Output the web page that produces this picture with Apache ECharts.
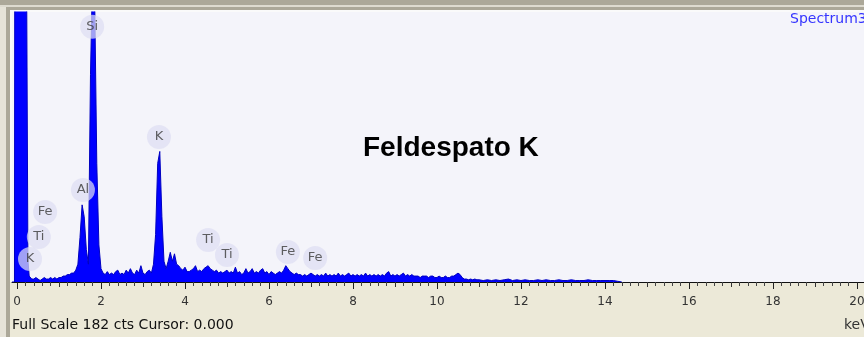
<!DOCTYPE html>
<html><head><meta charset="utf-8">
<script src="https://cdn.jsdelivr.net/npm/echarts@6/dist/echarts.min.js"></script>
<style>html,body{margin:0;padding:0;background:#ece9d8;overflow:hidden}#c{width:864px;height:337px}</style>
</head><body><div id="c"></div>
<script>
// ---- data (keV, counts) ----
const xMin = -0.119, xMax = 20.167, fullScale = 182;
const xTickLabels = [0, 2, 4, 6, 8, 10, 12, 14, 16, 18, 20];
const zeroPeakE = [-0.119, -0.06, -0.05, 0.0, 0.1, 0.2, 0.23, 0.26, 0.29];
const zeroPeakC = [0, 0, 320, 400, 400, 320, 200, 15, 4];
const step = 0.05;
const lowStart = 0.30;   // 0.30 .. 1.95 : Al + Si region
const lowCounts = [3,2,2,3,2,1,2,3,2,2,3,2,3,2,3,3,4,4,5,5,6,6,8,12,30,52,44,22,12,140,210,190,80,25];
const seg2Start = 2.00;  // 2.00 .. 3.20
const seg2Counts = [9,6,5,7,5,6,5,7,8,5,6,5,8,6,9,6,5,8,6,11,6,5,7,8,6];
const kStart = 3.25;     // 3.25 .. 4.05 : K peak
const kCounts = [12,32,80,88,44,14,9,14,20,14,19,12,11,9,8,10,7];
const tiStart = 4.10;    // 4.10 .. 5.55
const tiCounts = [7,8,9,11,7,8,7,9,10,11,9,8,7,8,6,7,6,7,8,6,7,6,10,6,7,5,6,9,6,7];
const feStart = 5.60;    // 5.60 .. 6.70
const feCounts = [9,6,7,6,8,9,6,7,5,7,6,5,6,7,6,8,11,9,7,6,5,6,5];
const midStart = 6.75;   // 6.75 .. 8.40
const midCounts = [5,4,5,4,5,6,5,4,5,4,5,4,6,4,5,4,5,4,6,4,5,4,5,6,4,5,4,5,4,5,4,6,4,5];
const highStart = 8.45;  // 8.45 .. 10.95
const highCounts = [4,5,4,5,4,5,4,6,7,4,5,4,5,4,5,6,4,5,4,5,4,4,4,3,4,4,4,3,4,4,3,3,4,3,3,4,3,3,4,4,5,6,5,3,2,2,1.5,2,1.5,2,1.5];
const tailStart = 11.0, tailStep = 0.1; // 11.0 .. 14.4
const tailCounts = [1.5,1,1.5,1,1.5,1,1.5,2,1,1.5,1,1.5,1,1,1.5,1,1.5,1,1,1.5,1,1,1.5,1,1,1,1.5,1,1,1,1,1,1,0.5,0];

const peakNames = ['Si', 'K', 'Al', 'Fe', 'Ti', 'K', 'Ti', 'Ti', 'Fe', 'Fe'];
const peakEnergies = [1.79, 3.38, 1.57, 0.67, 0.52, 0.31, 4.55, 5.00, 6.45, 7.10];
const peakHeights = [172, 97.7, 62, 47.2, 30.3, 15.5, 28.3, 18.2, 20.2, 16.2];

// ---- build series data ----
const spectrum = [];
zeroPeakE.forEach((e, i) => spectrum.push([e, zeroPeakC[i]]));
function addSeg(start, st, arr) { arr.forEach((c, i) => spectrum.push([+(start + i * st).toFixed(3), c])); }
addSeg(lowStart, step, lowCounts);
addSeg(seg2Start, step, seg2Counts);
addSeg(kStart, step, kCounts);
addSeg(tiStart, step, tiCounts);
addSeg(feStart, step, feCounts);
addSeg(midStart, step, midCounts);
addSeg(highStart, step, highCounts);
addSeg(tailStart, tailStep, tailCounts);

const labelPoints = peakNames.map((n, i) => ({ name: n, value: [peakEnergies[i], peakHeights[i]] }));

const oddTicks = [], minorTicks = [];
for (let i = 1; i < 20; i += 2) oddTicks.push(i);
for (let i = 1; i < 100; i++) { if (i % 5 !== 0) minorTicks.push(+(i * 0.2).toFixed(1)); }

const font = '"DejaVu Sans", sans-serif';
const chart = echarts.init(document.getElementById('c'), null, { renderer: 'canvas' });
const baseAxis = { type: 'value', min: xMin, max: xMax, position: 'bottom', gridIndex: 0, splitLine: { show: false } };
chart.setOption({
  animation: false,
  backgroundColor: '#ece9d8',
  grid: { left: 12, right: 0, top: 12, bottom: 55, show: true, backgroundColor: '#f4f4fa', borderWidth: 0, outerBoundsMode: 'none', containLabel: false },
  xAxis: [
    Object.assign({}, baseAxis, {
      axisLine: { show: true, lineStyle: { color: '#111', width: 1 } },
      axisTick: { show: true, customValues: xTickLabels, length: 7, lineStyle: { color: '#222' } },
      axisLabel: { show: true, customValues: xTickLabels, margin: 14, color: '#333', fontSize: 12, fontFamily: font }
    }),
    Object.assign({}, baseAxis, {
      axisLine: { show: false },
      axisTick: { show: true, customValues: oddTicks, length: 5, lineStyle: { color: '#333' } },
      axisLabel: { show: false }
    }),
    Object.assign({}, baseAxis, {
      axisLine: { show: false },
      axisTick: { show: true, customValues: minorTicks, length: 4, lineStyle: { color: '#444' } },
      axisLabel: { show: false }
    })
  ],
  yAxis: { type: 'value', min: 0, max: fullScale, show: false, splitLine: { show: false } },
  series: [
    {
      type: 'line', xAxisIndex: 0, data: spectrum, showSymbol: false, symbol: 'none', clip: true,
      lineStyle: { color: '#0000c0', width: 1 },
      areaStyle: { color: '#0000ff', opacity: 1 },
      z: 2
    },
    {
      type: 'scatter', xAxisIndex: 0, data: labelPoints, symbol: 'circle', symbolSize: 24,
      itemStyle: { color: 'rgba(222,222,242,0.9)' },
      label: { show: true, position: 'inside', formatter: '{b}', color: '#3a3a3a', fontSize: 13, fontFamily: font },
      emphasis: { disabled: true },
      z: 3
    }
  ],
  graphic: [
    { type: 'rect', shape: { x: 0, y: 0, width: 864, height: 5 }, style: { fill: '#aca899' } },
    { type: 'rect', shape: { x: 0, y: 5, width: 864, height: 2 }, style: { fill: '#dedbd0' } },
    { type: 'rect', shape: { x: 0, y: 7, width: 6, height: 330 }, style: { fill: '#e6e3d8' } },
    { type: 'rect', shape: { x: 6, y: 7, width: 858, height: 3 }, style: { fill: '#aca899' } },
    { type: 'rect', shape: { x: 6, y: 7, width: 4, height: 330 }, style: { fill: '#aca899' } },
    { type: 'rect', shape: { x: 10, y: 10, width: 854, height: 2 }, style: { fill: '#fafafa' } },
    { type: 'rect', shape: { x: 10, y: 10, width: 2, height: 272 }, style: { fill: '#fafafa' } },
    { type: 'text', x: 363, y: 148, style: { text: 'Feldespato K', font: 'bold 28px "Liberation Sans", Arial, sans-serif', fill: '#000', verticalAlign: 'middle' }, z: 10 },
    { type: 'text', x: 790, y: 19, style: { text: 'Spectrum3', font: '14px ' + font, fill: '#3535ff', verticalAlign: 'middle' }, z: 10 },
    { type: 'text', x: 12, y: 325, style: { text: 'Full Scale 182 cts Cursor: 0.000', font: '14px ' + font, fill: '#111', verticalAlign: 'middle' }, z: 10 },
    { type: 'text', x: 844, y: 325, style: { text: 'keV', font: '14px ' + font, fill: '#333', verticalAlign: 'middle' }, z: 10 }
  ]
});
</script></body></html>
